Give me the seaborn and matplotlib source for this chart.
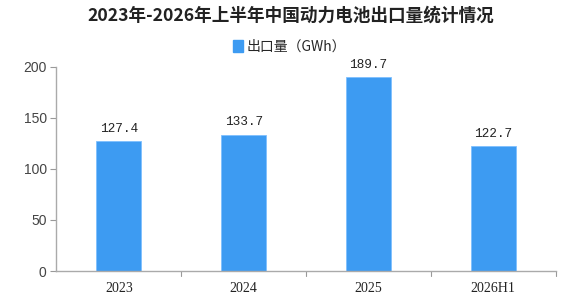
import matplotlib
matplotlib.use("Agg")
import matplotlib.pyplot as plt
import seaborn as sns
import pandas as pd
from matplotlib.patches import Patch

categories = ["2023", "2024", "2025", "2026H1"]
values = [127.4, 133.7, 189.7, 122.7]
yticks = [0, 50, 100, 150, 200]

sns.set_theme(style="white")
plt.rcParams['font.family'] = ['Noto Sans CJK SC', 'DejaVu Sans']

df = pd.DataFrame({"year": categories, "value": values})
color = "#3d9bf2"

fig = plt.figure(figsize=(5.82, 3.03), dpi=100)
ax = fig.add_axes([0.097, 0.1056, 0.8575, 0.6734])
sns.barplot(data=df, x="year", y="value", color=color, width=0.36, ax=ax,
            saturation=1, edgecolor="#7fc0ff", linewidth=0.6)

ax.set_xlim(-0.5, len(categories) - 0.5)
ax.set_ylim(0, 200)
ax.set_yticks(yticks)
ax.set_yticklabels([str(t) for t in yticks], family=['Liberation Sans'], fontsize=10, color="#444444")
ax.set_xlabel("")
ax.set_ylabel("")
ax.set_xticks(range(len(categories)))
ax.set_xticklabels(categories, family=['Liberation Serif', 'Noto Sans CJK SC'], fontsize=10, color="#222222")
ax.tick_params(axis='x', length=0, pad=8)
ax.tick_params(axis='y', length=4, width=0.8, color="#999999", direction='out', left=True, pad=3)

# category boundary ticks on x axis
for b in [i + 0.5 for i in range(len(categories))]:
    ax.plot([b, b], [0, -0.025], transform=ax.get_xaxis_transform(), color="#999999",
            lw=0.8, clip_on=False)

for s in ["top", "right"]:
    ax.spines[s].set_visible(False)
for s in ["left", "bottom"]:
    ax.spines[s].set_color("#aaaaaa")
    ax.spines[s].set_linewidth(1.0)

for i, v in enumerate(values):
    ax.text(i, v + 6, f"{v:.1f}", ha="center", va="bottom", fontsize=9.2,
            family=['Liberation Mono', 'DejaVu Sans Mono'], color="#222222")

fig.text(0.5, 0.949, "2023年-2026年上半年中国动力电池出口量统计情况", ha="center", va="center",
         fontsize=12.7, fontweight="bold", color="#222222")

leg = fig.legend(handles=[Patch(facecolor=color, edgecolor=color)], labels=["出口量（GWh）"],
                 loc="center", bbox_to_anchor=(0.498, 0.845), frameon=False, fontsize=10,
                 handlelength=0.7, handleheight=0.9, handletextpad=0.3)

fig.savefig("out.png", dpi=100)
